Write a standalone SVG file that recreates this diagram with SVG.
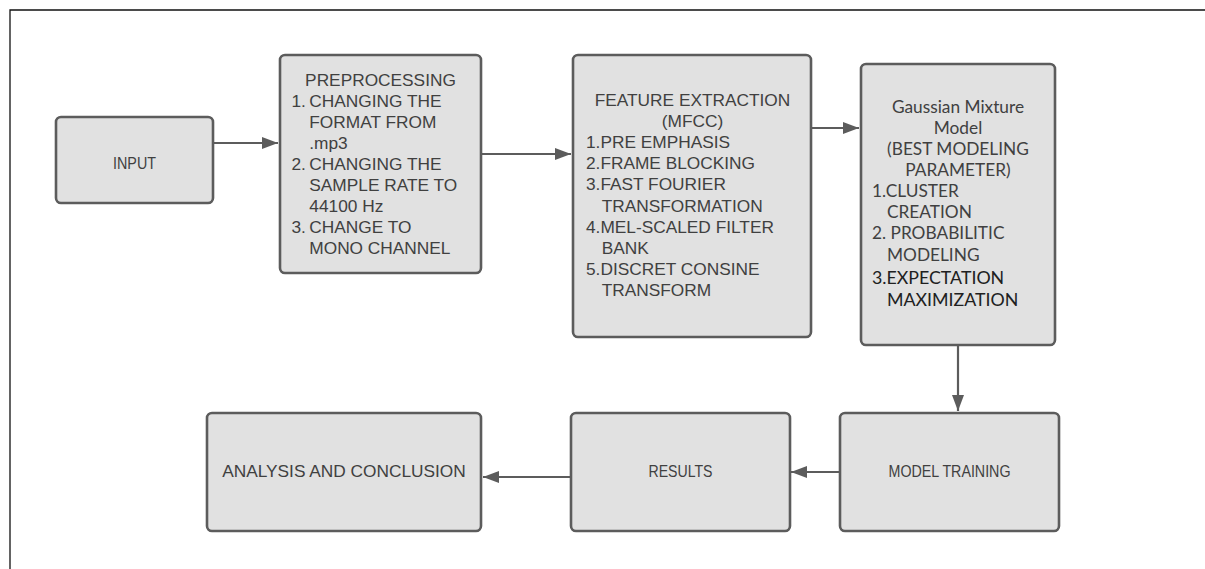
<svg xmlns="http://www.w3.org/2000/svg" width="1205" height="569" viewBox="0 0 1205 569">
  <style>
    .box { fill: #e1e1e1; stroke: #5c5c5c; stroke-width: 2.6; }
    .t { font-family: "Liberation Sans", Arial, sans-serif; font-size: 17.3px; fill: #404040; }
    .g { font-family: Lato, "Liberation Sans", sans-serif; font-size: 17.3px; fill: #404040; }
    .gd { font-family: Lato, "Liberation Sans", sans-serif; font-size: 17.8px; fill: #202020; }
    .c { text-anchor: middle; }
    .edge { stroke: #5c5c5c; stroke-width: 2.2; fill: none; }
    .frame { stroke: #111; stroke-width: 1.3; fill: none; }
  </style>
  <defs>
    <marker id="arrow" viewBox="0 0 16 12" refX="16" refY="6" markerWidth="16" markerHeight="12" markerUnits="userSpaceOnUse" orient="auto">
      <path d="M0,0 L16,6 L0,12 Z" fill="#5c5c5c"/>
    </marker>
  </defs>

  <rect width="1205" height="569" fill="#ffffff"/>
  <path class="frame" d="M10,569 L10,10 L1205,10"/>

  <g id="connectors">
    <line class="edge" x1="213" y1="143" x2="278" y2="143" marker-end="url(#arrow)"/>
    <line class="edge" x1="481" y1="154" x2="571" y2="154" marker-end="url(#arrow)"/>
    <line class="edge" x1="811" y1="128" x2="859" y2="128" marker-end="url(#arrow)"/>
    <line class="edge" x1="958" y1="345" x2="958" y2="411" marker-end="url(#arrow)"/>
    <line class="edge" x1="840" y1="472" x2="791" y2="472" marker-end="url(#arrow)"/>
    <line class="edge" x1="571" y1="477" x2="483" y2="477" marker-end="url(#arrow)"/>
  </g>

  <g id="input">
    <rect class="box" x="56" y="117" width="157" height="86" rx="5"/>
    <text class="t c" x="134.5" y="169" font-size="15" textLength="43" lengthAdjust="spacingAndGlyphs">INPUT</text>
  </g>

  <g id="preprocessing">
    <rect class="box" x="280" y="55" width="201" height="218" rx="5"/>
    <text class="t c" x="380.5" y="86">PREPROCESSING</text>
    <text class="t">
      <tspan x="291.5" y="107">1.</tspan><tspan x="309.3" y="107">CHANGING THE</tspan>
      <tspan x="309.3" y="128">FORMAT FROM</tspan>
      <tspan x="309.3" y="149">.mp3</tspan>
      <tspan x="291.5" y="170">2.</tspan><tspan x="309.3" y="170">CHANGING THE</tspan>
      <tspan x="309.3" y="191">SAMPLE RATE TO</tspan>
      <tspan x="309.3" y="212">44100 Hz</tspan>
      <tspan x="291.5" y="233">3.</tspan><tspan x="309.3" y="233">CHANGE TO</tspan>
      <tspan x="309.3" y="254">MONO CHANNEL</tspan>
    </text>
  </g>

  <g id="feature-extraction">
    <rect class="box" x="573" y="55" width="238" height="282" rx="5"/>
    <text class="t c" x="692.5" y="106">FEATURE EXTRACTION</text>
    <text class="t c" x="692.5" y="127">(MFCC)</text>
    <text class="t">
      <tspan x="586" y="148">1.PRE EMPHASIS</tspan>
      <tspan x="586" y="169">2.FRAME BLOCKING</tspan>
      <tspan x="586" y="190">3.FAST FOURIER</tspan>
      <tspan x="601.7" y="212">TRANSFORMATION</tspan>
      <tspan x="586" y="233">4.MEL-SCALED FILTER</tspan>
      <tspan x="601.7" y="254">BANK</tspan>
      <tspan x="586" y="275">5.DISCRET CONSINE</tspan>
      <tspan x="601.7" y="296">TRANSFORM</tspan>
    </text>
  </g>

  <g id="gmm">
    <rect class="box" x="861" y="64" width="194" height="281" rx="5"/>
    <text class="g c" x="958" y="113">Gaussian Mixture</text>
    <text class="g c" x="958" y="134">Model</text>
    <text class="g c" x="958" y="155">(BEST MODELING</text>
    <text class="g c" x="958" y="176">PARAMETER)</text>
    <text class="g">
      <tspan x="872" y="197">1.CLUSTER</tspan>
      <tspan x="887" y="218">CREATION</tspan>
      <tspan x="872" y="239">2. PROBABILITIC</tspan>
      <tspan x="887" y="261">MODELING</tspan>
    </text>
    <text class="gd">
      <tspan x="872" y="284">3.EXPECTATION</tspan>
      <tspan x="887" y="306">MAXIMIZATION</tspan>
    </text>
  </g>

  <g id="model-training">
    <rect class="box" x="840" y="413" width="219" height="118" rx="5"/>
    <text class="t c" x="949.5" y="477" font-size="17" textLength="122" lengthAdjust="spacingAndGlyphs">MODEL TRAINING</text>
  </g>

  <g id="results">
    <rect class="box" x="571" y="413" width="219" height="118" rx="5"/>
    <text class="t c" x="680.5" y="477" font-size="17" textLength="64" lengthAdjust="spacingAndGlyphs">RESULTS</text>
  </g>

  <g id="analysis">
    <rect class="box" x="207" y="413" width="274" height="118" rx="5"/>
    <text class="t c" x="344" y="477">ANALYSIS AND CONCLUSION</text>
  </g>
</svg>
